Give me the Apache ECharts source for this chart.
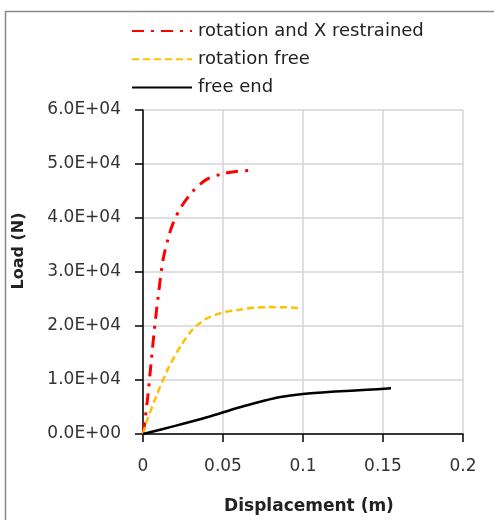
<!DOCTYPE html>
<html>
<head>
<meta charset="utf-8">
<script src="https://cdn.jsdelivr.net/npm/echarts@6/dist/echarts.min.js"></script>
<style>html,body{margin:0;padding:0;background:#fff}#c{width:494px;height:520px}</style>
</head>
<body>
<div id="c"></div>
<script>
var seriesNames = ['rotation and X restrained', 'rotation free', 'free end'];
var dispRestrained = [0, 0.001, 0.003, 0.005, 0.007, 0.0095, 0.0125, 0.016, 0.019, 0.024, 0.031, 0.04, 0.05, 0.058, 0.067];
var loadRestrained = [0, 2000, 7000, 13000, 19000, 25500, 32200, 36500, 39200, 42100, 44900, 47200, 48200, 48600, 48800];
var dispRotFree = [0, 0.002, 0.008, 0.016, 0.024, 0.03, 0.035, 0.04, 0.05, 0.06, 0.07, 0.08, 0.09, 0.098];
var loadRotFree = [0, 2000, 6800, 12300, 16500, 19000, 20400, 21400, 22500, 23000, 23400, 23500, 23450, 23300];
var dispFreeEnd = [0, 0.02, 0.04, 0.06, 0.075, 0.085, 0.1, 0.12, 0.14, 0.155];
var loadFreeEnd = [0, 1500, 3100, 4900, 6100, 6800, 7400, 7850, 8200, 8450];
var yTicks = [0, 10000, 20000, 30000, 40000, 50000, 60000];
var xTicks = [0, 0.05, 0.1, 0.15, 0.2];

function pairs(xs, ys) { return xs.map(function (x, i) { return [x, ys[i]]; }); }
function sci(v) {
  if (v === 0) return '0.0E+00';
  var e = Math.floor(Math.log10(Math.abs(v)) + 1e-9);
  var m = v / Math.pow(10, e);
  return m.toFixed(1) + 'E+' + (e < 10 ? '0' + e : e);
}
var FONT = 'DejaVu Sans';
var chart = echarts.init(document.getElementById('c'));
chart.setOption({
  animation: false,
  backgroundColor: '#fff',
  graphic: [{
    type: 'rect', shape: { x: 5.5, y: 11.5, width: 600, height: 600 },
    style: { fill: 'none', stroke: '#8a8a8a', lineWidth: 1.5 }, silent: true
  }],
  legend: {
    orient: 'vertical', left: 126, top: 17, itemWidth: 60, itemHeight: 14, itemGap: 10.3,
    itemStyle: { opacity: 0 },
    textStyle: { fontFamily: FONT, fontSize: 18, color: '#222', padding: [0, 0, 0, 1] },
    data: seriesNames
  },
  grid: { left: 143, top: 110, width: 320, height: 324, containLabel: false },
  xAxis: {
    type: 'value', min: 0, max: 0.2, interval: 0.05,
    name: 'Displacement (m)', nameLocation: 'middle', nameGap: 64,
    nameTextStyle: { fontFamily: FONT, fontSize: 17, fontWeight: 'bold', color: '#222', padding: [0, 0, 0, 12] },
    axisLine: { show: true, onZero: false, lineStyle: { color: '#000', width: 1.5 } },
    axisTick: { show: true, length: 8, lineStyle: { color: '#000', width: 1.5 } },
    axisLabel: { margin: 24, fontFamily: FONT, fontSize: 17, color: '#333',
      formatter: function (v) { return String(+v.toFixed(2)); } },
    splitLine: { show: true, lineStyle: { color: '#d4d4d4', width: 1.5 } }
  },
  yAxis: {
    type: 'value', min: 0, max: 60000, interval: 10000,
    name: 'Load (N)', nameLocation: 'middle', nameGap: 116,
    nameTextStyle: { fontFamily: FONT, fontSize: 16, fontWeight: 'bold', color: '#222', padding: [0, 0, 0, 42] },
    axisLine: { show: true, lineStyle: { color: '#000', width: 1.5 } },
    axisTick: { show: true, length: 8, lineStyle: { color: '#000', width: 1.5 } },
    axisLabel: { margin: 22, fontFamily: FONT, fontSize: 17, color: '#333', formatter: sci, padding: [4, 0, 0, 0] },
    splitLine: { show: true, lineStyle: { color: '#d4d4d4', width: 1.5 } }
  },
  series: [
    { name: seriesNames[0], type: 'line', symbol: 'none', smooth: 0.3, data: pairs(dispRestrained, loadRestrained),
      lineStyle: { color: '#ff0000', width: 3, type: [12, 7, 3, 7] }, itemStyle: { color: '#ff0000' } },
    { name: seriesNames[1], type: 'line', symbol: 'none', smooth: 0.3, data: pairs(dispRotFree, loadRotFree),
      lineStyle: { color: '#ffc000', width: 2.5, type: [7, 4] }, itemStyle: { color: '#ffc000' } },
    { name: seriesNames[2], type: 'line', symbol: 'none', smooth: 0.3, data: pairs(dispFreeEnd, loadFreeEnd),
      lineStyle: { color: '#000', width: 2.5 }, itemStyle: { color: '#000' } }
  ]
});
</script>
</body>
</html>
